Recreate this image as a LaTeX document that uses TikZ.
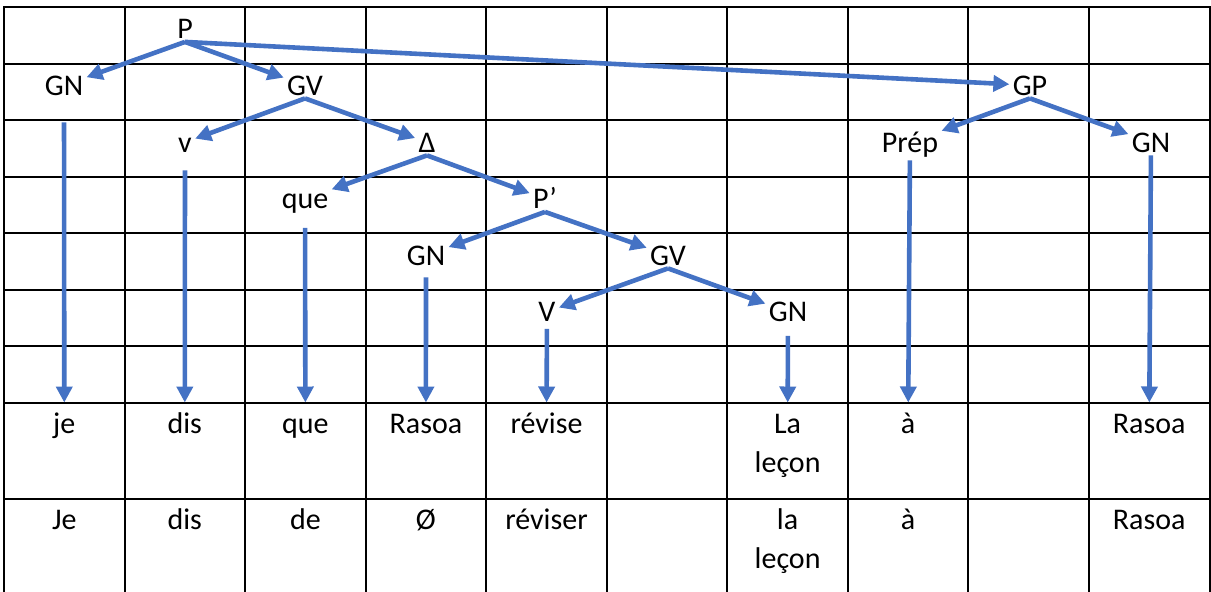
\documentclass[tikz,border=0pt]{standalone}
\usepackage{fontspec}
\setmainfont{Carlito}
\usepackage{tikz}
\usetikzlibrary{arrows.meta}
\definecolor{treeblue}{HTML}{4472C4}
\tikzset{
    cat/.style={font=\fontsize{15}{18}\selectfont, inner sep=1.5pt, text height=9.7pt, text depth=0pt, anchor=base},
    word/.style={font=\fontsize{15}{19.5}\selectfont, anchor=north, align=center, inner xsep=0pt, inner ysep=1.5pt},
    branch/.style={line width=2.3pt, draw=treeblue, -{Triangle[length=8pt, width=8pt]}},
    gridline/.style={line width=1pt, line cap=rect}
}

\begin{document}
\begin{tikzpicture}[x=0.5pt, y=-0.5pt]
            \useasboundingbox (0,0) rectangle (1211,591);
            \foreach \r in {0,...,7} \draw[gridline] (4,7+56.5*\r) -- (1209.5,7+56.5*\r);
            \draw[gridline] (4,499) -- (1209.5,499);
            \foreach \c in {0,...,10} \draw[gridline] (4+120.55*\c,7) -- (4+120.55*\c,591);

            \node[cat] (p) at (185,38.5) {P};
            \node[cat] (gn) at (64,95) {GN};
            \node[cat] (gv) at (305,95) {GV};
            \node[cat] (gp) at (1030,95) {GP};
            \node[cat] (v) at (185,152) {v};
            \node[cat] (delta) at (427,152) {Δ};
            \node[cat] (prep) at (910,152) {Prép};
            \node[cat] (gnrasoa) at (1151,152) {GN};
            \node[cat] (que) at (305,208.5) {que};
            \node[cat] (pprime) at (545,208.5) {P’};
            \node[cat] (gnsub) at (426,265) {GN};
            \node[cat] (gvsub) at (668,265) {GV};
            \node[cat] (vsub) at (547,321.5) {V};
            \node[cat] (gnlecon) at (788,321.5) {GN};

            \node[word] (je) at (64.3,402.5) {\strut je};
            \node[word] (dis) at (184.8,402.5) {\strut dis};
            \node[word] (queword) at (305.4,402.5) {\strut que};
            \node[word] (rasoa) at (425.9,402.5) {\strut Rasoa};
            \node[word] (revise) at (546.5,402.5) {\strut révise};
            \node[word] (lecon) at (787.6,402.5) {\strut La\\leçon};
            \node[word] (a) at (908.1,402.5) {\strut à};
            \node[word] (rasoaprep) at (1149.2,402.5) {\strut Rasoa};

            \node[word] (jebis) at (64.3,499) {\strut Je};
            \node[word] (disbis) at (184.8,499) {\strut dis};
            \node[word] (de) at (305.4,499) {\strut de};
            \node[word] (vide) at (425.9,499) {\strut Ø};
            \node[word] (reviser) at (546.5,499) {\strut réviser};
            \node[word] (leconbis) at (787.6,499) {\strut la\\leçon};
            \node[word] (abis) at (908.1,499) {\strut à};
            \node[word] (rasoabis) at (1149.2,499) {\strut Rasoa};

            \draw[branch] (p.south) -- (gn);
            \draw[branch] (p.south) -- (gv);
            \draw[branch] (p.south) -- (gp);
            \draw[branch] (gv.south) -- (v);
            \draw[branch] (gv.south) -- (delta);
            \draw[branch] (gp.south) -- (prep);
            \draw[branch] (gp.south) -- (gnrasoa);
            \draw[branch] (delta.south) -- (que);
            \draw[branch] (delta.south) -- (pprime);
            \draw[branch] (pprime.south) -- (gnsub);
            \draw[branch] (pprime.south) -- (gvsub);
            \draw[branch] (gvsub.south) -- (vsub);
            \draw[branch] (gvsub.south) -- (gnlecon);

            \draw[branch, shorten <=12pt] (gn) -- (je);
            \draw[branch, shorten <=7.5pt] (v) -- (dis);
            \draw[branch, shorten <=8pt] (que) -- (queword);
            \draw[branch, shorten <=4.5pt] (gnsub) -- (rasoa);
            \draw[branch, shorten <=2pt] (vsub) -- (revise);
            \draw[branch, shorten <=5.5pt] (gnlecon) -- (lecon);
            \draw[branch, shorten <=2.5pt] (prep) -- (a);
            \draw[branch] (gnrasoa) -- (rasoaprep);
        \end{tikzpicture}
\end{document}
